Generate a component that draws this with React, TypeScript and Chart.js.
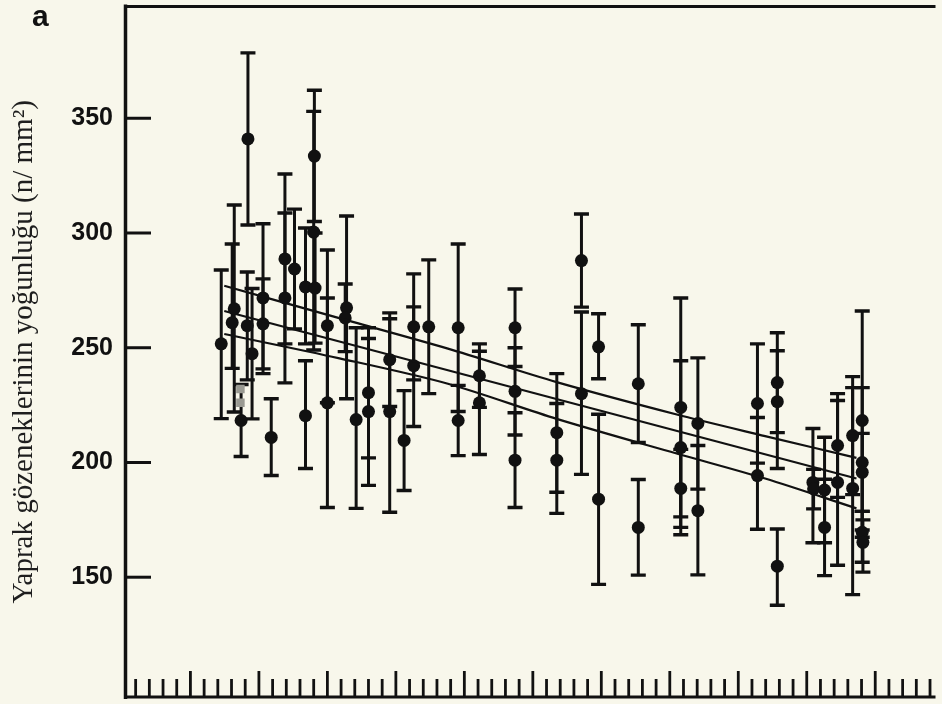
import React, { useEffect, useRef } from "react";
import { Chart, registerables } from "chart.js";

Chart.register(...registerables);

// ---- axis definition ----
const Y_TICKS = [150, 200, 250, 300, 350];
const Y_MIN = 97.8;
const Y_MAX = 398.7;
const X_MIN = 0.15;
const X_MAX = 59.4;
const X_MINOR_STEP = 1;
const X_MAJOR_EVERY = 5;

const Y_TITLE = "Yaprak gözeneklerinin yoğunluğu (n/ mm²)";
const PANEL_LABEL = "a";

// ---- observations: mean with lower / upper error limits ----
const PT_X = [
  7.25, 8.05, 8.2, 8.7, 9.2, 9.15, 9.5, 10.3, 10.3, 10.9,
  11.9, 11.9, 12.6, 13.4, 13.4, 14.0, 14.05, 14.1, 15.0, 15.0,
  16.4, 16.3, 17.1, 18.0, 18.0, 19.55, 19.55, 20.6, 21.3, 21.3,
  22.4, 24.55, 24.55, 26.1, 26.1, 28.7, 28.7, 28.7, 31.75, 31.75,
  33.55, 33.55, 34.8, 34.8, 37.7, 37.7, 40.8, 40.8, 40.8, 42.05,
  42.05, 46.4, 46.4, 47.85, 47.85, 47.85, 50.45, 50.5, 51.3, 51.3,
  52.25, 52.25, 53.35, 53.35, 54.05, 54.05, 54.05, 54.05, 54.1,
];
const PT_Y = [
  251.7, 260.9, 267, 218.3, 341, 259.6, 247.4, 271.7, 260.4, 210.9,
  288.7, 271.7, 284.3, 276.5, 220.4, 300.4, 333.5, 276, 259.6, 226,
  267.4, 263, 218.7, 230.4, 222.2, 244.8, 222.2, 209.6, 259.1, 242.2,
  259.1, 258.7, 218.3, 237.8, 226, 258.7, 231, 201, 213, 201,
  288, 230, 250.4, 184, 234.3, 171.7, 224, 206.5, 188.7, 217,
  179, 225.7, 194.3, 234.8, 226.5, 154.8, 191.3, 188.5, 188, 171.7,
  207.4, 191.3, 211.7, 188.7, 218.3, 200, 195.7, 169.6, 165.2,
];
const PT_LO = [
  219.1, 241, 222, 202.6, 303.5, 236, 219, 238.7, 240.8, 194.3,
  251.7, 234.7, 258.2, 251.7, 197.4, 249, 305, 252, 226, 180.4,
  227.8, 248.3, 180, 202, 190, 224.4, 178.3, 187.8, 236, 215.7,
  230, 222.2, 203, 224, 203.5, 241.8, 212, 180.4, 187, 177.8,
  267.7, 194.8, 236.5, 146.9, 208.7, 150.9, 176.3, 168.5, 171.7, 188.4,
  151, 199.7, 170.9, 213, 197.4, 137.8, 165, 179.8, 165, 150.7,
  184.8, 155.2, 186, 142.4, 170.6, 167.4, 178.7, 156.5, 152.2,
];
const PT_HI = [
  283.9, 295.2, 312.2, 234, 378.5, 283, 275.8, 304, 280, 227.8,
  325.7, 308.7, 310.4, 302.2, 244.3, 353, 362.2, 300, 292.6, 271.7,
  307.4, 277.8, 258.7, 258.7, 254, 265.2, 262.6, 231.3, 282.2, 267.8,
  288.3, 295.2, 233.6, 251.7, 248.5, 275.6, 250, 221.7, 238.7, 225.7,
  308.3, 265.6, 264.8, 221, 260, 192.6, 271.7, 244.3, 205.7, 245.6,
  207.4, 251.7, 219.6, 256.5, 248.7, 171, 214.8, 197, 211, 192.7,
  230, 227, 237.4, 232.6, 266, 232.6, 212.7, 178.7, 175,
];

// grey smudge markers in the original plate
const GREY_X = [8.65, 8.65];
const GREY_Y = [232, 226];

// ---- regression line and its confidence band ----
const FIT_X = [7.47, 53.63];
const FIT_Y = [266, 193];
const BAND_X = [7.47, 15.8, 23.8, 31.74, 40.44, 46.96, 53.63];
const BAND_UPPER = [277, 263, 249.6, 235, 221, 211.5, 202];
const BAND_LOWER = [256, 245.5, 234.3, 219, 204, 193, 180];

const INK = "#111111";
const PAPER = "#f8f7eb";

const pts = (xs: number[], ys: number[]) => xs.map((x, i) => ({ x, y: ys[i] }));

const paperPlugin = {
  id: "paper",
  beforeDraw(chart: any) {
    const { ctx, width, height } = chart;
    ctx.save();
    ctx.fillStyle = PAPER;
    ctx.fillRect(0, 0, width, height);
    ctx.restore();
  },
};

const errorBarPlugin = {
  id: "errorBars",
  beforeDatasetsDraw(chart: any) {
    const { ctx, scales } = chart;
    const xs = scales.x;
    const ys = scales.y;
    ctx.save();
    ctx.strokeStyle = INK;
    ctx.lineCap = "butt";
    for (let i = 0; i < PT_X.length; i++) {
      const px = xs.getPixelForValue(PT_X[i]);
      const pLo = ys.getPixelForValue(PT_LO[i]);
      const pHi = ys.getPixelForValue(PT_HI[i]);
      ctx.lineWidth = 3;
      ctx.beginPath();
      ctx.moveTo(px, pLo);
      ctx.lineTo(px, pHi);
      ctx.stroke();
      ctx.lineWidth = 3.4;
      ctx.beginPath();
      ctx.moveTo(px - 7.5, pLo);
      ctx.lineTo(px + 7.5, pLo);
      ctx.moveTo(px - 7.5, pHi);
      ctx.lineTo(px + 7.5, pHi);
      ctx.stroke();
    }
    ctx.restore();
  },
};

const framePlugin = {
  id: "frame",
  afterDatasetsDraw(chart: any) {
    const { ctx, chartArea, scales } = chart;
    const { left, right, top, bottom } = chartArea;
    const xs = scales.x;
    const ys = scales.y;
    ctx.save();
    ctx.strokeStyle = INK;
    ctx.lineCap = "butt";
    // inward y ticks
    ctx.lineWidth = 3;
    for (const v of Y_TICKS) {
      const py = ys.getPixelForValue(v);
      ctx.beginPath();
      ctx.moveTo(left, py);
      ctx.lineTo(left + 27, py);
      ctx.stroke();
    }
    // inward x ticks
    ctx.lineWidth = 2.8;
    const first = Math.ceil(X_MIN / X_MINOR_STEP);
    const last = Math.floor(X_MAX / X_MINOR_STEP);
    for (let k = first; k <= last; k++) {
      const v = k * X_MINOR_STEP;
      const px = xs.getPixelForValue(v);
      const len = k % X_MAJOR_EVERY === 0 ? 26 : 18;
      ctx.beginPath();
      ctx.moveTo(px, bottom);
      ctx.lineTo(px, bottom - len);
      ctx.stroke();
    }
    // frame (right side lies beyond the visible page)
    ctx.lineWidth = 3.5;
    ctx.beginPath();
    ctx.moveTo(left + 1.5, bottom + 2);
    ctx.lineTo(left + 1.5, top - 2);
    ctx.stroke();
    ctx.lineWidth = 3;
    ctx.beginPath();
    ctx.moveTo(left, top);
    ctx.lineTo(right, top);
    ctx.moveTo(left, bottom);
    ctx.lineTo(right, bottom);
    ctx.stroke();
    ctx.restore();
  },
  afterDraw(chart: any) {
    const { ctx } = chart;
    ctx.save();
    ctx.fillStyle = INK;
    ctx.font = "bold 30px 'Liberation Sans', Arial, sans-serif";
    ctx.textBaseline = "alphabetic";
    ctx.textAlign = "left";
    ctx.fillText(PANEL_LABEL, 32, 26);
    ctx.restore();
  },
};

export default function App() {
  const ref = useRef<HTMLCanvasElement | null>(null);

  useEffect(() => {
    document.body.style.margin = "0";
    document.body.style.background = PAPER;
    const canvas = ref.current;
    if (!canvas) return;
    const chart = new Chart(canvas, {
      type: "scatter",
      data: {
        datasets: [
          {
            type: "line",
            label: "fit",
            data: pts(FIT_X, FIT_Y),
            borderColor: INK,
            borderWidth: 2.2,
            pointRadius: 0,
            fill: false,
            tension: 0,
          } as any,
          {
            type: "line",
            label: "upper",
            data: pts(BAND_X, BAND_UPPER),
            borderColor: INK,
            borderWidth: 2.2,
            pointRadius: 0,
            fill: false,
            tension: 0.3,
          } as any,
          {
            type: "line",
            label: "lower",
            data: pts(BAND_X, BAND_LOWER),
            borderColor: INK,
            borderWidth: 2.2,
            pointRadius: 0,
            fill: false,
            tension: 0.3,
          } as any,
          {
            label: "grey",
            data: pts(GREY_X, GREY_Y),
            pointStyle: "rect",
            pointRadius: 6,
            backgroundColor: "#9a9a92",
            borderWidth: 0,
          } as any,
          {
            label: "density",
            data: pts(PT_X, PT_Y),
            pointRadius: 6.5,
            backgroundColor: INK,
            borderWidth: 0,
          } as any,
        ],
      },
      options: {
        responsive: false,
        animation: false,
        devicePixelRatio: 1,
        layout: { padding: { left: 0, right: 0, top: 5, bottom: 7 } },
        plugins: {
          legend: { display: false },
          tooltip: { enabled: false },
        },
        scales: {
          x: {
            type: "linear",
            min: X_MIN,
            max: X_MAX,
            display: false,
          },
          y: {
            type: "linear",
            position: "left",
            min: Y_MIN,
            max: Y_MAX,
            afterBuildTicks: (s: any) => {
              s.ticks = Y_TICKS.map((v) => ({ value: v }));
            },
            afterFit: (s: any) => {
              s.width = 124;
              s.paddingTop = 0;
              s.paddingBottom = 0;
            },
            grid: { display: false, drawTicks: false },
            border: { display: false },
            ticks: {
              padding: 11,
              color: INK,
              font: { family: "'Liberation Sans', Arial, sans-serif", size: 25, weight: "bold" },
            },
            title: {
              display: true,
              text: Y_TITLE,
              color: "#1e1e1e",
              padding: { top: 7, bottom: 0 },
              font: { family: "'Liberation Serif', 'DejaVu Serif', serif", size: 29, weight: "normal" },
            },
          },
        },
      } as any,
      plugins: [paperPlugin, errorBarPlugin, framePlugin],
    });
    return () => chart.destroy();
  }, []);

  return (
    <canvas ref={ref} width={942} height={704} style={{ display: "block", width: 942, height: 704 }} />
  );
}
